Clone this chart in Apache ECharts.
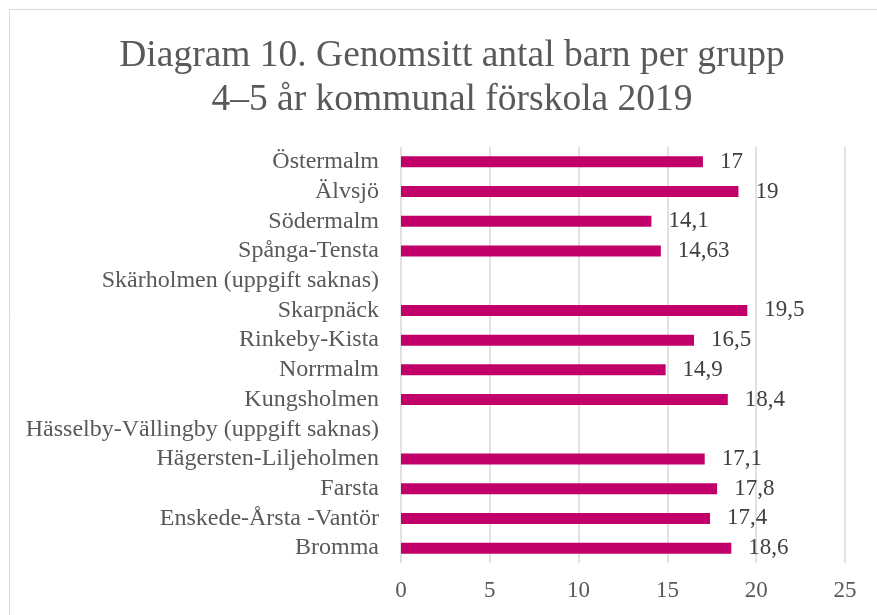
<!DOCTYPE html>
<html><head><meta charset="utf-8">
<script src="https://cdn.jsdelivr.net/npm/echarts@6/dist/echarts.min.js"></script>
<style>html,body{margin:0;padding:0;background:#fff}#c{width:877px;height:615px}</style>
</head><body><div id="c"></div>
<script>
const titleLines = ['Diagram 10. Genomsitt antal barn per grupp', '4\u20135 år kommunal förskola 2019'];
const categories = ['Östermalm','Älvsjö','Södermalm','Spånga-Tensta','Skärholmen (uppgift saknas)','Skarpnäck','Rinkeby-Kista','Norrmalm','Kungsholmen','Hässelby-Vällingby (uppgift saknas)','Hägersten-Liljeholmen','Farsta','Enskede-Årsta -Vantör','Bromma'];
const values = [17, 19, 14.1, 14.63, null, 19.5, 16.5, 14.9, 18.4, null, 17.1, 17.8, 17.4, 18.6];
const xTicks = [0, 5, 10, 15, 20, 25];

const font = 'Liberation Serif, Times New Roman, serif';
const chart = echarts.init(document.getElementById('c'), null, {renderer: 'canvas'});
chart.setOption({
  animation: false,
  graphic: [{
    type: 'rect', silent: true,
    shape: {x: 9.5, y: 9.5, width: 900, height: 700},
    style: {fill: 'none', stroke: '#d9d9d9', lineWidth: 1}
  }],
  title: {
    text: titleLines.join('\n'),
    left: 447, top: 29, textAlign: 'center',
    textStyle: {fontFamily: font, fontSize: 37.5, fontWeight: 'normal', color: '#595959', lineHeight: 44}
  },
  grid: {left: 401, right: 32, top: 147, height: 416, containLabel: false},
  xAxis: {
    type: 'value', min: xTicks[0], max: xTicks[xTicks.length - 1], interval: 5,
    axisLine: {show: false}, axisTick: {show: false},
    axisLabel: {fontFamily: font, fontSize: 23, color: '#595959', margin: 16},
    splitLine: {show: true, lineStyle: {color: '#d9d9d9', width: 1.5}}
  },
  yAxis: {
    type: 'category', data: categories, inverse: true,
    axisLine: {show: false}, axisTick: {show: false},
    axisLabel: {interval: 0, hideOverlap: false, fontFamily: font, fontSize: 24, color: '#595959', margin: 22}
  },
  series: [{
    type: 'bar', data: values, barWidth: '37%',
    itemStyle: {color: '#C2006A'},
    label: {
      show: true, position: 'right', distance: 17,
      fontFamily: font, fontSize: 23, color: '#404040',
      formatter: p => (p.value == null ? '' : String(p.value).replace('.', ','))
    }
  }]
});
</script></body></html>
